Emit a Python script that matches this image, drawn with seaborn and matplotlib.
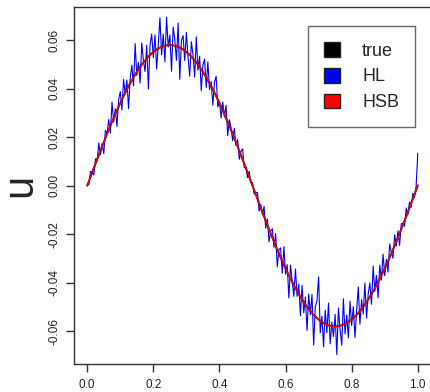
import numpy as np
import pandas as pd
import matplotlib
matplotlib.use("Agg")
import matplotlib.pyplot as plt
import seaborn as sns
from matplotlib.patches import Patch

# ---------------- data ----------------
x_fine = np.linspace(0.0, 1.0, 201)    # grid of the HL series
x_coarse = np.linspace(0.0, 1.0, 101)  # grid of the true / HSB series

u_true = [
    0.0, 0.00364, 0.00727, 0.01087, 0.01442, 0.01792, 0.02135, 0.02470, 0.02794, 0.03108,
    0.03409, 0.03697, 0.03970, 0.04228, 0.04469, 0.04692, 0.04897, 0.05083, 0.05248, 0.05393,
    0.05516, 0.05618, 0.05697, 0.05754, 0.05788, 0.05800, 0.05788, 0.05754, 0.05697, 0.05618,
    0.05516, 0.05393, 0.05248, 0.05083, 0.04897, 0.04692, 0.04469, 0.04228, 0.03970, 0.03697,
    0.03409, 0.03108, 0.02794, 0.02470, 0.02135, 0.01792, 0.01442, 0.01087, 0.00727, 0.00364,
    0.0, -0.00364, -0.00727, -0.01087, -0.01442, -0.01792, -0.02135, -0.02470, -0.02794, -0.03108,
    -0.03409, -0.03697, -0.03970, -0.04228, -0.04469, -0.04692, -0.04897, -0.05083, -0.05248, -0.05393,
    -0.05516, -0.05618, -0.05697, -0.05754, -0.05788, -0.05800, -0.05788, -0.05754, -0.05697, -0.05618,
    -0.05516, -0.05393, -0.05248, -0.05083, -0.04897, -0.04692, -0.04469, -0.04228, -0.03970, -0.03697,
    -0.03409, -0.03108, -0.02794, -0.02470, -0.02135, -0.01792, -0.01442, -0.01087, -0.00727, -0.00364,
    0.0,
]

u_hsb = [
    0.0002, 0.0036, 0.0075, 0.0108, 0.0146, 0.0177, 0.0214, 0.0249, 0.0278, 0.0312,
    0.0340, 0.0371, 0.0396, 0.0424, 0.0446, 0.0470, 0.0488, 0.0509, 0.0524, 0.0541,
    0.0551, 0.0563, 0.0569, 0.0577, 0.0578, 0.0581, 0.0578, 0.0576, 0.0569, 0.0563,
    0.0550, 0.0540, 0.0524, 0.0509, 0.0489, 0.0470, 0.0446, 0.0424, 0.0396, 0.0371,
    0.0340, 0.0312, 0.0278, 0.0248, 0.0213, 0.0180, 0.0143, 0.0110, 0.0072, 0.0037,
    0.0001, -0.0037, -0.0072, -0.0110, -0.0143, -0.0180, -0.0213, -0.0248, -0.0280, -0.0310,
    -0.0342, -0.0369, -0.0398, -0.0422, -0.0448, -0.0468, -0.0491, -0.0507, -0.0526, -0.0538,
    -0.0553, -0.0561, -0.0571, -0.0575, -0.0580, -0.0581, -0.0580, -0.0575, -0.0571, -0.0561,
    -0.0553, -0.0538, -0.0526, -0.0507, -0.0491, -0.0468, -0.0448, -0.0422, -0.0398, -0.0369,
    -0.0342, -0.0310, -0.0280, -0.0246, -0.0214, -0.0178, -0.0145, -0.0108, -0.0074, -0.0035,
    0.0004,
]

u_hl = [
    0.0005, 0.0005, 0.0059, 0.0058, 0.0044, 0.0111, 0.0102, 0.0176, 0.0128, 0.0174,
    0.0132, 0.0228, 0.0214, 0.0273, 0.0217, 0.0345, 0.0263, 0.0317, 0.0244, 0.0355,
    0.0388, 0.0313, 0.0438, 0.0378, 0.0436, 0.0318, 0.0443, 0.0497, 0.0412, 0.0586,
    0.0455, 0.0509, 0.0423, 0.0589, 0.0516, 0.0471, 0.0579, 0.0399, 0.0579, 0.0626,
    0.0528, 0.0622, 0.0481, 0.0582, 0.0693, 0.0540, 0.0625, 0.0511, 0.0695, 0.0572,
    0.0622, 0.0472, 0.0654, 0.0602, 0.0517, 0.0671, 0.0439, 0.0599, 0.0619, 0.0516,
    0.0632, 0.0530, 0.0452, 0.0594, 0.0540, 0.0448, 0.0614, 0.0476, 0.0534, 0.0392,
    0.0498, 0.0522, 0.0405, 0.0511, 0.0396, 0.0430, 0.0332, 0.0428, 0.0451, 0.0325,
    0.0347, 0.0280, 0.0345, 0.0284, 0.0332, 0.0207, 0.0272, 0.0240, 0.0186, 0.0237,
    0.0166, 0.0191, 0.0109, 0.0142, 0.0152, 0.0074, 0.0076, 0.0034, 0.0059, 0.0013,
    0.0013, -0.0034, -0.0027, -0.0028, -0.0105, -0.0077, -0.0120, -0.0085, -0.0175, -0.0137,
    -0.0231, -0.0187, -0.0177, -0.0254, -0.0197, -0.0334, -0.0263, -0.0256, -0.0361, -0.0251,
    -0.0365, -0.0325, -0.0463, -0.0327, -0.0390, -0.0456, -0.0343, -0.0456, -0.0405, -0.0536,
    -0.0411, -0.0524, -0.0460, -0.0597, -0.0447, -0.0532, -0.0448, -0.0657, -0.0499, -0.0474,
    -0.0376, -0.0606, -0.0538, -0.0664, -0.0513, -0.0606, -0.0484, -0.0652, -0.0562, -0.0622,
    -0.0530, -0.0696, -0.0504, -0.0594, -0.0658, -0.0466, -0.0611, -0.0533, -0.0627, -0.0476,
    -0.0576, -0.0498, -0.0626, -0.0516, -0.0417, -0.0571, -0.0470, -0.0529, -0.0401, -0.0546,
    -0.0447, -0.0401, -0.0489, -0.0331, -0.0436, -0.0370, -0.0462, -0.0327, -0.0389, -0.0282,
    -0.0371, -0.0303, -0.0356, -0.0240, -0.0274, -0.0299, -0.0202, -0.0249, -0.0186, -0.0246,
    -0.0157, -0.0154, -0.0167, -0.0092, -0.0120, -0.0067, -0.0089, -0.0031, -0.0048, -0.0002,
    0.0134,
]

x_ticks = [0.0, 0.2, 0.4, 0.6, 0.8, 1.0]
y_ticks = [-0.06, -0.04, -0.02, 0.00, 0.02, 0.04, 0.06]
x_tick_labels = ["0.0", "0.2", "0.4", "0.6", "0.8", "1.0"]
y_tick_labels = ["-0.06", "-0.04", "-0.02", "0.00", "0.02", "0.04", "0.06"]
series_names = ["true", "HL", "HSB"]
series_colors = ["black", "blue", "red"]

# ---------------- plot ----------------
sns.set_style("white")
plt.rcParams["font.family"] = ["Liberation Sans", "DejaVu Sans"]

fig = plt.figure(figsize=(4.30, 3.92), dpi=100)
ax = fig.add_axes([74 / 430, 1 - 364 / 392, 357 / 430, 357 / 392])

df_hl = pd.DataFrame({"x": x_fine, "u": u_hl})
df_true = pd.DataFrame({"x": x_coarse, "u": u_true})
df_hsb = pd.DataFrame({"x": x_coarse, "u": u_hsb})

sns.lineplot(data=df_hl, x="x", y="u", ax=ax, color="blue", lw=0.8,
             estimator=None, sort=False, errorbar=None)
sns.lineplot(data=df_true, x="x", y="u", ax=ax, color="black", lw=1.3,
             estimator=None, sort=False, errorbar=None)
sns.lineplot(data=df_hsb, x="x", y="u", ax=ax, color="red", lw=1.05,
             estimator=None, sort=False, errorbar=None)

ax.set_xlim(-0.04, 1.04)
ax.set_ylim(-0.0735, 0.0737)
ax.set_xticks(x_ticks)
ax.set_xticklabels(x_tick_labels, fontsize=8.5, color="#222222")
ax.set_yticks(y_ticks)
ax.set_yticklabels(y_tick_labels, fontsize=8.5, rotation=90, va="center",
                   color="#222222")
ax.tick_params(axis="both", direction="out", length=6, width=1,
               color="#333333", bottom=True, left=True)
ax.tick_params(axis="x", pad=5)
ax.tick_params(axis="y", pad=4)
for sp in ax.spines.values():
    sp.set_color("#333333")
    sp.set_linewidth(1.0)

ax.set_xlabel("")
ax.set_ylabel("u", fontsize=30, labelpad=6)

handles = [Patch(facecolor=c, edgecolor="#222222", label=n)
           for n, c in zip(series_names, series_colors)]
leg = ax.legend(handles=handles, loc="upper left",
                bbox_to_anchor=(0.655, 0.948), fontsize=13,
                frameon=True, fancybox=False, handlelength=0.9,
                handleheight=0.9, handletextpad=1.2, labelspacing=0.45,
                borderpad=0.9, borderaxespad=0)
leg.get_frame().set_edgecolor("#444444")
leg.get_frame().set_linewidth(1.0)

fig.savefig("out.png", dpi=100)
